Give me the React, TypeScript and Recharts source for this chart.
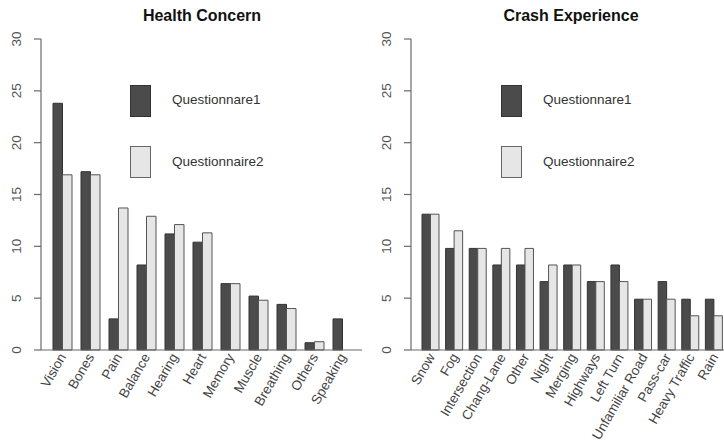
import { Bar, BarChart, XAxis, YAxis } from "recharts";

const healthItems = ["Vision", "Bones", "Pain", "Balance", "Hearing", "Heart", "Memory", "Muscle", "Breathing", "Others", "Speaking"];
const healthQ1 = [23.8, 17.2, 3.0, 8.2, 11.2, 10.4, 6.4, 5.2, 4.4, 0.7, 3.0];
const healthQ2 = [16.9, 16.9, 13.7, 12.9, 12.1, 11.3, 6.4, 4.8, 4.0, 0.8, 0];

const crashItems = ["Snow", "Fog", "Intersection", "Chang-Lane", "Other", "Night", "Merging", "Highways", "Left Turn", "Unfamiliar Road", "Pass-car", "Heavy Traffic", "Rain"];
const crashQ1 = [13.1, 9.8, 9.8, 8.2, 8.2, 6.6, 8.2, 6.6, 8.2, 4.9, 6.6, 4.9, 4.9];
const crashQ2 = [13.1, 11.5, 9.8, 9.8, 9.8, 8.2, 8.2, 6.6, 6.6, 4.9, 4.9, 3.3, 3.3];

const yTicks = [0, 5, 10, 15, 20, 25, 30];
const seriesNames = ["Questionnare1", "Questionnaire2"];

const FONT = '"Liberation Sans", Arial, Helvetica, sans-serif';
const DARK = "#4b4b4b";
const LIGHT = "#e6e6e6";
const AXIS = "#6a6a6a";

const YTick = (props: any) => {
  const { y, payload, labelX } = props;
  return (
    <text
      x={labelX}
      y={y}
      dy="0.35em"
      textAnchor="middle"
      fontSize={13.5}
      fill="#555"
      fontFamily={FONT}
      transform={`rotate(-90 ${labelX} ${y})`}
    >
      {payload.value}
    </text>
  );
};

// category labels hang below the baseline, slanted at 60 degrees
const XTick = (props: any) => {
  const { x, payload } = props;
  const ax = x + 0.5;
  const ay = 354.5;
  return (
    <text
      x={ax}
      y={ay}
      dy="0.35em"
      textAnchor="end"
      fontSize={13.5}
      fill="#444"
      fontFamily={FONT}
      transform={`rotate(-60 ${ax} ${ay})`}
    >
      {payload.value}
    </text>
  );
};

type PanelProps = {
  title: string;
  titleX: number;
  items: string[];
  q1: number[];
  q2: number[];
  left: number;
  width: number;
  axisWidth: number;
  padding: { left: number; right: number };
  barSize: number;
  legendX: number;
};

function Panel({ title, titleX, items, q1, q2, left, width, axisWidth, padding, barSize, legendX }: PanelProps) {
  const data = items.map((name, i) => ({ name, q1: q1[i], q2: q2[i] }));
  const labelX = axisWidth - 25;
  return (
    <div style={{ position: "absolute", left, top: 0, width, height: 442, fontFamily: FONT }}>
      <BarChart width={width} height={442} data={data} margin={{ top: 39, right: 0, bottom: 0, left: 0 }} barGap={0}>
        <XAxis
          dataKey="name"
          interval={0}
          height={92}
          padding={padding}
          tickLine={false}
          axisLine={{ stroke: AXIS, strokeWidth: 1.2 }}
          tick={<XTick />}
        />
        <YAxis
          domain={[0, 30]}
          ticks={yTicks}
          width={axisWidth}
          tickSize={7}
          tickLine={{ stroke: AXIS, strokeWidth: 1.2 }}
          axisLine={{ stroke: AXIS, strokeWidth: 1.2 }}
          tick={<YTick labelX={labelX} />}
        />
        <Bar dataKey="q1" name={seriesNames[0]} fill={DARK} stroke="#333" strokeWidth={1} barSize={barSize} isAnimationActive={false} />
        <Bar dataKey="q2" name={seriesNames[1]} fill={LIGHT} stroke="#555" strokeWidth={1} barSize={barSize} isAnimationActive={false} />
      </BarChart>
      <div
        style={{
          position: "absolute",
          left: titleX - 100,
          width: 200,
          top: 6,
          textAlign: "center",
          fontWeight: "bold",
          fontSize: 16,
          lineHeight: "20px",
          color: "#111",
        }}
      >
        {title}
      </div>
      {seriesNames.map((s, i) => (
        <div key={s}>
          <div
            style={{
              position: "absolute",
              left: legendX,
              top: i === 0 ? 85 : 146,
              width: 19,
              height: 30,
              background: i === 0 ? DARK : LIGHT,
              border: `1px solid ${i === 0 ? "#333" : "#666"}`,
            }}
          />
          <div
            style={{
              position: "absolute",
              left: legendX + 42,
              top: i === 0 ? 90 : 152,
              fontSize: 13.5,
              lineHeight: "20px",
              color: "#333",
              whiteSpace: "nowrap",
            }}
          >
            {s}
          </div>
        </div>
      ))}
    </div>
  );
}

export default function App() {
  return (
    <div style={{ position: "absolute", left: 0, top: 0, width: 724, height: 442, background: "#fff", overflow: "hidden" }}>
      <Panel
        title="Health Concern"
        titleX={202}
        items={healthItems}
        q1={healthQ1}
        q2={healthQ2}
        left={0}
        width={362}
        axisWidth={41}
        padding={{ left: 7, right: 6 }}
        barSize={9.5}
        legendX={130}
      />
      <Panel
        title="Crash Experience"
        titleX={209}
        items={crashItems}
        q1={crashQ1}
        q2={crashQ2}
        left={362}
        width={364}
        axisWidth={49}
        padding={{ left: 8, right: 0 }}
        barSize={8.5}
        legendX={139}
      />
    </div>
  );
}
